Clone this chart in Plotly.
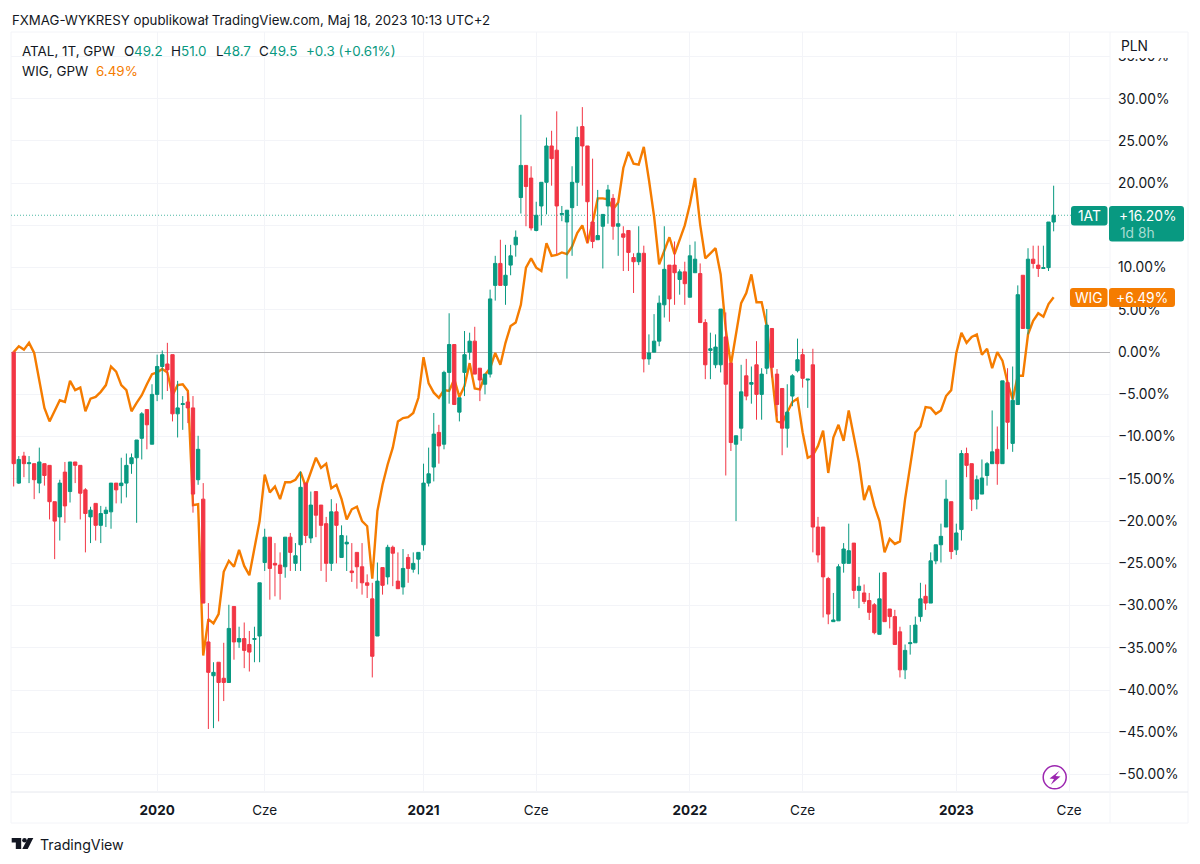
import pandas as pd
import plotly.graph_objects as go

# ---- data (percent change against the first bar, weekly bars) ----
FIRST_BAR = "2019-06-24"
OPEN = [0,-15.5,-12.3,-13.2,-13.2,-15.5,-13.2,-13.4,-17.7,-19.5,
 -14.2,-16.5,-13.0,-13.4,-16.3,-19.5,-17.9,-20.5,-19.1,-18.9,
 -15.5,-15.8,-15.5,-13.2,-12.5,-10.2,-6.8,-10.9,-5.0,-1.7,
 -1.4,-0.3,-7.3,-6.2,-5.9,-6.6,-15.1,-17.4,-34.3,-38.3,
 -36.7,-38.6,-39.1,-30.1,-34.3,-33.9,-34.6,-34.0,-33.6,-24.9,
 -21.9,-25.0,-25.2,-25.4,-21.9,-25.0,-22.8,-15.5,-22.0,-16.5,
 -18.1,-20.3,-25.0,-18.9,-24.3,-22.7,-25.9,-23.7,-25.4,-27.3,
 -29.2,-33.6,-25.5,-26.6,-23.1,-27.1,-27.8,-24.3,-25.7,-24.5,
 -22.8,-15.5,-13.6,-9.5,-10.9,-2.4,0.9,-7.1,-2.4,0,
 1.3,-1.9,-3.8,-2.6,7.9,10.5,7.9,10.3,12.7,18.3,
 22.1,20.6,14.4,17.3,20.1,24.4,23.9,16.3,15.4,17.1,
 20.1,26.7,24.4,15.4,13.3,14.9,17.3,18.2,14.9,14.0,
 14.4,11.2,10.7,11.7,-0.8,0,1.3,5.6,10.3,10.3,
 8.6,9.5,6.5,9.4,9.3,3.5,0.2,-1.5,-1.5,1.8,
 -1.3,-10.9,-9.0,-2.8,-3.8,-1.5,-5.0,-1.9,2.8,-2.6,
 -4.3,-9.0,-5.2,-2.2,-0.3,-3.3,-1.5,-20.7,-20.7,-26.8,
 -31.9,-31.8,-25.0,-25.0,-22.6,-28.2,-28.5,-29.4,-29.9,-33.4,
 -26.1,-30.4,-31.3,-33.1,-37.6,-34.5,-34.4,-31.3,-28.9,-29.7,
 -24.7,-22.8,-20.7,-17.7,-23.4,-21.0,-12.0,-13.2,-17.4,-16.8,
 -14.6,-13.2,-11.5,-13.2,-3.6,-10.8,-6.2,9.1,2.8,11.0,
 10.3,9.9,10.0,15.4]
HIGH = [0,-12.3,-11.8,-12.3,-13.2,-11.3,-13.2,-13.4,-17.7,-15.1,
 -13.0,-13.0,-13.0,-13.4,-16.1,-18.3,-17.9,-18.2,-18.3,-15.5,
 -15.5,-12.5,-12.0,-12.0,-10.4,-7.1,-6.8,-3.8,-0.3,0.2,
 1.1,-0.3,-3.4,-5.2,-4.8,-5.2,-9.9,-15.5,-29.7,-36.7,
 -36.7,-34.4,-29.9,-30.1,-32.5,-32.0,-33.0,-32.5,-27.3,-20.9,
 -21.9,-22.6,-23.7,-21.9,-21.4,-22.6,-14.1,-15.5,-16.5,-16.5,
 -18.1,-19.5,-17.4,-17.9,-20.5,-21.7,-22.6,-23.7,-22.6,-26.3,
 -27.3,-24.9,-25.5,-22.8,-22.9,-23.7,-23.3,-23.9,-23.7,-23.7,
 -13.2,-11.3,-7.2,-8.6,-2.2,4.6,0.9,-5.4,2.5,2.3,
 3.0,-1.9,-2.6,7.4,11.4,13.3,12.7,12.7,14.4,28.1,
 22.1,22.0,17.8,20.1,25.4,26.2,28.5,17.3,16.8,22.0,
 26.7,29.0,24.4,22.9,19.2,16.3,19.8,18.7,17.6,14.9,
 14.4,11.7,14.9,12.6,2.1,4.5,6.7,14.9,10.3,13.1,
 9.8,10.7,12.7,13.1,10.5,3.9,2.3,2.1,5.1,4.7,
 -1.3,-9.9,-1.5,-0.8,-1.7,1.3,-1.9,5.1,2.8,-2.0,
 -4.3,-3.8,-2.6,1.6,0.4,-3.2,0.4,-19.5,-20.7,-26.6,
 -28.5,-25.1,-22.6,-20.3,-22.6,-26.6,-27.5,-28.5,-29.7,-26.1,
 -26.1,-30.4,-30.5,-32.5,-34.6,-32.3,-31.3,-27.3,-27.5,-23.7,
 -22.8,-20.3,-15.1,-17.7,-20.3,-11.6,-11.3,-13.2,-14.6,-12.7,
 -13.0,-6.9,-8.8,-3.4,-1.9,-1.7,7.9,9.1,12.3,12.6,
 12.6,12.6,15.4,19.7]
LOW = [-15.9,-15.6,-14.8,-15.5,-17.4,-16.7,-15.8,-19.8,-24.5,-22.3,
 -20.2,-17.8,-15.5,-19.8,-23.7,-22.6,-22.3,-22.6,-20.7,-20.9,
 -17.9,-17.9,-17.2,-14.4,-20.2,-12.7,-11.5,-10.9,-5.8,-5.6,
 -4.6,-8.2,-10.1,-9.2,-8.4,-19.0,-15.7,-29.7,-44.6,-44.5,
 -43.7,-41.3,-39.1,-36.4,-35.0,-37.4,-37.8,-36.7,-36.7,-25.9,
 -29.3,-28.9,-29.3,-26.7,-25.9,-25.9,-25.9,-22.6,-22.6,-21.9,
 -25.9,-27.2,-25.9,-25.0,-24.3,-25.9,-27.2,-28.0,-28.7,-29.1,
 -38.5,-33.6,-28.7,-27.5,-27.7,-28.0,-28.7,-27.3,-26.1,-26.3,
 -23.5,-15.9,-15.3,-13.2,-11.5,-6.1,-6.2,-8.2,-5.2,-0.9,
 -2.6,-5.8,-5.0,-3.0,6.1,7.9,5.6,9.1,11.3,16.4,
 14.9,14.4,14.3,15.0,16.3,19.7,11.6,15.5,8.7,11.4,
 17.3,19.7,12.9,12.3,13.3,9.9,15.2,13.3,11.4,9.6,
 9.6,7.0,10.3,-2.4,-1.5,0,0.7,4.1,3.6,5.6,
 6.8,5.6,6.5,9.4,3.5,-3.2,-3.2,-1.9,-2.4,-14.6,
 -11.7,-20.0,-10.5,-5.7,-6.1,-8.0,-8.0,-2.6,-3.0,-7.6,
 -12.2,-11.3,-6.4,-2.4,-4.2,-6.6,-23.7,-24.9,-31.4,-32.2,
 -31.9,-31.8,-26.1,-25.0,-29.2,-30.3,-29.8,-31.7,-33.4,-33.4,
 -31.9,-32.7,-34.6,-38.5,-38.7,-35.8,-34.4,-31.9,-30.5,-29.7,
 -25.1,-24.9,-20.7,-24.5,-24.0,-22.3,-14.8,-18.8,-18.6,-16.8,
 -15.8,-13.2,-15.7,-13.2,-11.5,-11.8,-6.2,2.8,2.1,9.9,
 8.9,9.9,9.6,14.3]
CLOSE = [-13.2,-12.7,-13.2,-13.1,-15.1,-13.0,-14.6,-17.7,-20.0,-15.5,
 -18.2,-13.0,-13.4,-16.7,-19.1,-18.7,-20.5,-19.1,-18.7,-15.5,
 -16.3,-15.5,-13.4,-12.5,-10.4,-7.3,-8.6,-5.0,-1.7,-0.3,
 -2.1,-7.3,-6.6,-6.1,-6.6,-16.8,-11.5,-29.7,-37.9,-37.9,
 -39.1,-39.1,-32.7,-34.3,-33.9,-35.3,-35.5,-33.9,-27.3,-21.9,
 -25.6,-25.2,-26.2,-21.9,-23.7,-24.1,-16.0,-21.7,-18.1,-19.3,
 -20.5,-25.0,-18.9,-20.5,-21.7,-22.5,-26.1,-25.4,-27.3,-27.6,
 -36.0,-27.1,-27.6,-23.1,-23.8,-28.0,-25.6,-25.6,-25.0,-23.7,
 -15.5,-14.4,-9.7,-11.1,-2.4,0.9,-6.2,-5.4,-0.3,1.3,
 -2.6,-3.3,-2.6,6.3,10.5,7.9,9.1,11.4,13.6,22.1,
 19.6,14.7,16.2,20.1,24.4,22.9,17.3,16.4,16.8,20.1,
 25.4,24.4,17.8,13.1,13.8,16.3,19.2,14.9,15.2,13.6,
 11.8,10.7,11.7,-0.8,-0.1,1.3,5.8,9.8,6.3,9.4,
 9.5,8.1,11.4,11.0,3.5,-1.5,0.4,0.6,5.1,-3.8,
 -10.7,-9.9,-4.7,-5.2,-3.6,-5.0,-2.6,3.2,-1.8,-6.2,
 -9.0,-7.1,-2.8,-0.9,-3.1,-3.2,-20.7,-24.0,-26.6,-31.0,
 -31.7,-25.4,-23.3,-23.5,-28.2,-27.7,-29.5,-30.8,-33.2,-29.2,
 -31.9,-31.3,-34.6,-37.6,-35.3,-34.4,-32.3,-29.2,-29.7,-24.7,
 -22.8,-21.8,-17.4,-23.6,-21.4,-12.0,-13.4,-17.4,-15.1,-14.9,
 -13.2,-11.8,-13.2,-3.4,-8.3,-5.7,6.8,2.8,11.0,10.5,
 9.9,10.0,15.4,16.2]
WIG = [0,0.7,0.3,1.1,-0.1,-3.4,-6.6,-8.2,-7.0,-5.7,
 -5.9,-3.4,-4.5,-4.2,-7.0,-5.5,-5.3,-4.7,-3.9,-1.7,
 -2.3,-3.9,-4.5,-7.0,-6.0,-5.1,-3.8,-2.6,-2.4,-2.0,
 -2.4,-5.1,-3.9,-3.8,-4.6,-18.1,-18.0,-35.9,-31.6,-32.1,
 -31.0,-26.0,-24.7,-25.4,-23.4,-25.3,-26.4,-23.4,-20.0,-14.5,
 -16.6,-15.9,-17.4,-15.4,-15.4,-15.1,-14.2,-15.9,-14.1,-12.5,
 -13.7,-13.2,-16.1,-15.7,-17.4,-19.8,-18.6,-18.3,-20.0,-20.6,
 -26.8,-18.8,-15.7,-13.3,-11.3,-8.2,-7.8,-7.7,-7.2,-5.4,
 -0.6,-3.7,-4.8,-5.4,-4.5,-4.6,-3.2,-5.3,-4.0,-1.3,
 -4.3,-4.4,-2.7,-1.9,-0.1,-1.5,1.1,3.1,3.5,5.6,
 10.0,11.1,10.0,9.6,12.9,11.4,11.5,11.8,11.6,12.5,
 14.1,15.0,12.9,15.3,18.2,18.2,18.1,16.9,17.7,21.8,
 23.7,22.3,22.2,24.3,20.4,16.1,10.4,12.1,13.6,11.6,
 13.3,15.0,17.5,20.6,15.1,11.1,11.7,12.3,9.2,2.7,
 -1.5,1.9,5.8,7.0,9.2,5.9,5.9,3.1,-2.8,-8.2,
 -8.4,-7.2,-5.9,-5.5,-9.5,-12.5,-12.2,-11.1,-9.3,-14.3,
 -10.1,-8.6,-10.5,-6.9,-9.9,-13.1,-17.5,-15.8,-18.2,-20.0,
 -23.7,-22.1,-22.7,-22.4,-17.4,-13.5,-9.5,-8.8,-6.5,-6.6,
 -7.3,-6.9,-5.2,-4.5,-0.1,2.3,1.1,1.8,2.1,-0.3,
 0.4,-1.9,0.0,-1.0,-3.6,-5.6,-2.8,-2.8,2.1,3.7,
 4.6,4.2,5.7,6.49]

TICK_DATES = ["2020-01-06","2020-06-01","2021-01-04","2021-06-07","2022-01-03","2022-06-06","2023-01-02","2023-06-05"]
TICK_TEXT = ["<b>2020</b>","Cze","<b>2021</b>","Cze","<b>2022</b>","Cze","<b>2023</b>","Cze"]
X_RANGE = ["2019-06-20 08:00","2023-07-31"]
Y_RANGE = [-52.06, 37.89]

HEADER = "FXMAG-WYKRESY opublikował TradingView.com, Maj 18, 2023 10:13 UTC+2"

GREEN = "#089981"
RED = "#f23645"
ORANGE = "#f57c00"
INK = "#131722"
GRID = "#f3f4f8"
EDGE = "#e6e8ee"
FONT = "Inter"

# ---- page geometry ----
W, H = 1200, 864
L, R, T, B = 11, 1110, 32, 792


def fx(px):
    return (px - L) / (R - L)


def fy(py):
    return (B - py) / (B - T)


def pt(px, py):
    return f"{fx(px):.5f},{fy(py):.5f}"


def rounded(x0, y0, x1, y1, r=3):
    return (f"M{pt(x0+r,y0)} L{pt(x1-r,y0)} Q{pt(x1,y0)} {pt(x1,y0+r)} L{pt(x1,y1-r)} "
            f"Q{pt(x1,y1)} {pt(x1-r,y1)} L{pt(x0+r,y1)} Q{pt(x0,y1)} {pt(x0,y1-r)} "
            f"L{pt(x0,y0+r)} Q{pt(x0,y0)} {pt(x0+r,y0)} Z")


def polygon(points):
    return "M" + " L".join(pt(*p) for p in points) + " Z"


def path(d, fill, line=None, width=0, layer="above"):
    return dict(type="path", xref="paper", yref="paper", path=d, fillcolor=fill,
                line=dict(color=line or fill, width=width), layer=layer)


def hline(py, x0, x1, color, layer="below"):
    return dict(type="line", xref="paper", yref="paper", x0=fx(x0), x1=fx(x1), y0=fy(py), y1=fy(py),
                line=dict(color=color, width=1), layer=layer)


def vline(px, y0, y1, color, layer="below"):
    return dict(type="line", xref="paper", yref="paper", x0=fx(px), x1=fx(px), y0=fy(y0), y1=fy(y1),
                line=dict(color=color, width=1), layer=layer)


def text(s, px, py, color=INK, size=13.4, anchor="left"):
    return dict(text=s, xref="paper", yref="paper", x=fx(px), y=fy(py), xanchor=anchor, yanchor="middle",
                showarrow=False, borderpad=0, font=dict(family=FONT, size=size, color=color))


dates = pd.date_range(FIRST_BAR, periods=len(CLOSE), freq="7D")

fig = go.Figure()
fig.add_trace(go.Scatter(x=dates, y=WIG, mode="lines", name="WIG", yaxis="y",
                         line=dict(color=ORANGE, width=2.4), hoverinfo="skip"))
fig.add_trace(go.Candlestick(x=dates, open=OPEN, high=HIGH, low=LOW, close=CLOSE, name="ATAL", yaxis="y2",
                             increasing=dict(line=dict(color=GREEN, width=1), fillcolor=GREEN),
                             decreasing=dict(line=dict(color=RED, width=1), fillcolor=RED),
                             whiskerwidth=0, hoverinfo="skip"))

shapes = [
    # frame and scale rules
    hline(T, L, 1188, GRID), hline(823, L, 1188, GRID),
    vline(L, T, 823, GRID), vline(1188, T, 823, GRID),
    hline(B, L, 1188, EDGE), vline(R, T, 823, GRID),
    # last-price dotted line
    dict(type="line", xref="paper", yref="y", x0=0, x1=fx(1071), y0=CLOSE[-1], y1=CLOSE[-1],
         line=dict(color="#4db8a4", width=1, dash="1px,2px"), layer="below"),
    # white mask that clips the top scale label under the currency header
    dict(type="rect", xref="paper", yref="paper", x0=fx(1112), x1=fx(1187), y0=fy(T + 1), y1=fy(58),
         fillcolor="white", line=dict(width=0), layer="above"),
    # price badges
    path(rounded(1071, 206, 1107.5, 225.5), GREEN),
    path(rounded(1109, 206, 1184, 241.5), GREEN),
    path(rounded(1070, 288, 1107.5, 307), ORANGE),
    path(rounded(1109, 288, 1175, 307), ORANGE),
    # purple flash badge
    dict(type="circle", xref="paper", yref="paper", x0=fx(1043.2), x1=fx(1066.2), y0=fy(765.8), y1=fy(788.8),
         fillcolor="white", line=dict(color="#9c27b0", width=1.5), layer="above"),
    path(polygon([(1059.5, 770.8), (1049.5, 778.4), (1054, 778.9), (1050.8, 784.8),
                  (1060.5, 776.5), (1055.5, 776)]), "#9c27b0"),
    # TradingView logo
    path(polygon([(11.7, 838), (21.2, 838), (21.2, 849), (15.8, 849), (15.8, 842.6), (11.7, 842.6)]), INK),
    dict(type="circle", xref="paper", yref="paper", x0=fx(22.2), x1=fx(26.8), y0=fy(838), y1=fy(842.6),
         fillcolor=INK, line=dict(width=0), layer="above"),
    path(polygon([(28, 838), (33.3, 838), (27.7, 849), (22.3, 849)]), INK),
]

annotations = [
    text(HEADER, 11, 20.5, size=13.25),
    text("ATAL, 1T, GPW", 21, 51),
    text("O", 123, 51), text("49.2", 133, 51, GREEN),
    text("H", 170, 51), text("51.0", 180, 51, GREEN),
    text("L", 215, 51), text("48.7", 222, 51, GREEN),
    text("C", 258, 51), text("49.5", 268, 51, GREEN),
    text("+0.3 (+0.61%)", 305, 51, GREEN),
    text("WIG, GPW", 21, 71),
    text(f"{WIG[-1]:.2f}%", 95, 71, ORANGE),
    text("PLN", 1120, 46, size=13.8),
    text("1AT", 1089.5, 215.5, "white", 13.8, "center"),
    text(f"+{CLOSE[-1]:.2f}%", 1147, 215.5, "white", 13.8, "center"),
    text("1d 8h", 1119, 232.5, "#a8dcd2", 13.8),
    text("WIG", 1089, 298, "white", 13.8, "center"),
    text(f"+{WIG[-1]:.2f}%", 1142, 298, "white", 13.8, "center"),
    text("TradingView", 38.5, 844.5, INK, 14.2),
]

fig.update_layout(
    width=W, height=H, autosize=False,
    margin=dict(l=L, r=W - R, t=T, b=H - B, pad=0),
    paper_bgcolor="white", plot_bgcolor="white",
    showlegend=False, hovermode=False,
    boxgap=0.2, boxgroupgap=0.19,
    font=dict(family=FONT, color=INK, size=14),
    xaxis=dict(type="date", range=X_RANGE, rangeslider=dict(visible=False),
               tickmode="array", tickvals=TICK_DATES, ticktext=TICK_TEXT,
               showgrid=True, gridcolor=GRID, gridwidth=1, zeroline=False, showline=False,
               ticks="", ticklabelstandoff=8, tickangle=0, tickfont=dict(family=FONT, size=13.5, color=INK)),
    yaxis=dict(range=Y_RANGE, side="right", tick0=0, dtick=5, tickformat=".2f", ticksuffix="%",
               showgrid=True, gridcolor=GRID, gridwidth=1,
               zeroline=True, zerolinecolor="#b5b5b8", zerolinewidth=1, showline=False,
               ticks="", ticklabelstandoff=7, tickfont=dict(family=FONT, size=13.8, color=INK)),
    yaxis2=dict(range=Y_RANGE, overlaying="y", side="right", visible=False, showgrid=False, zeroline=False),
    shapes=shapes,
    annotations=annotations,
)

fig.write_html("out.html", post_script="document.body.style.margin='0';", config=dict(displayModeBar=False))
